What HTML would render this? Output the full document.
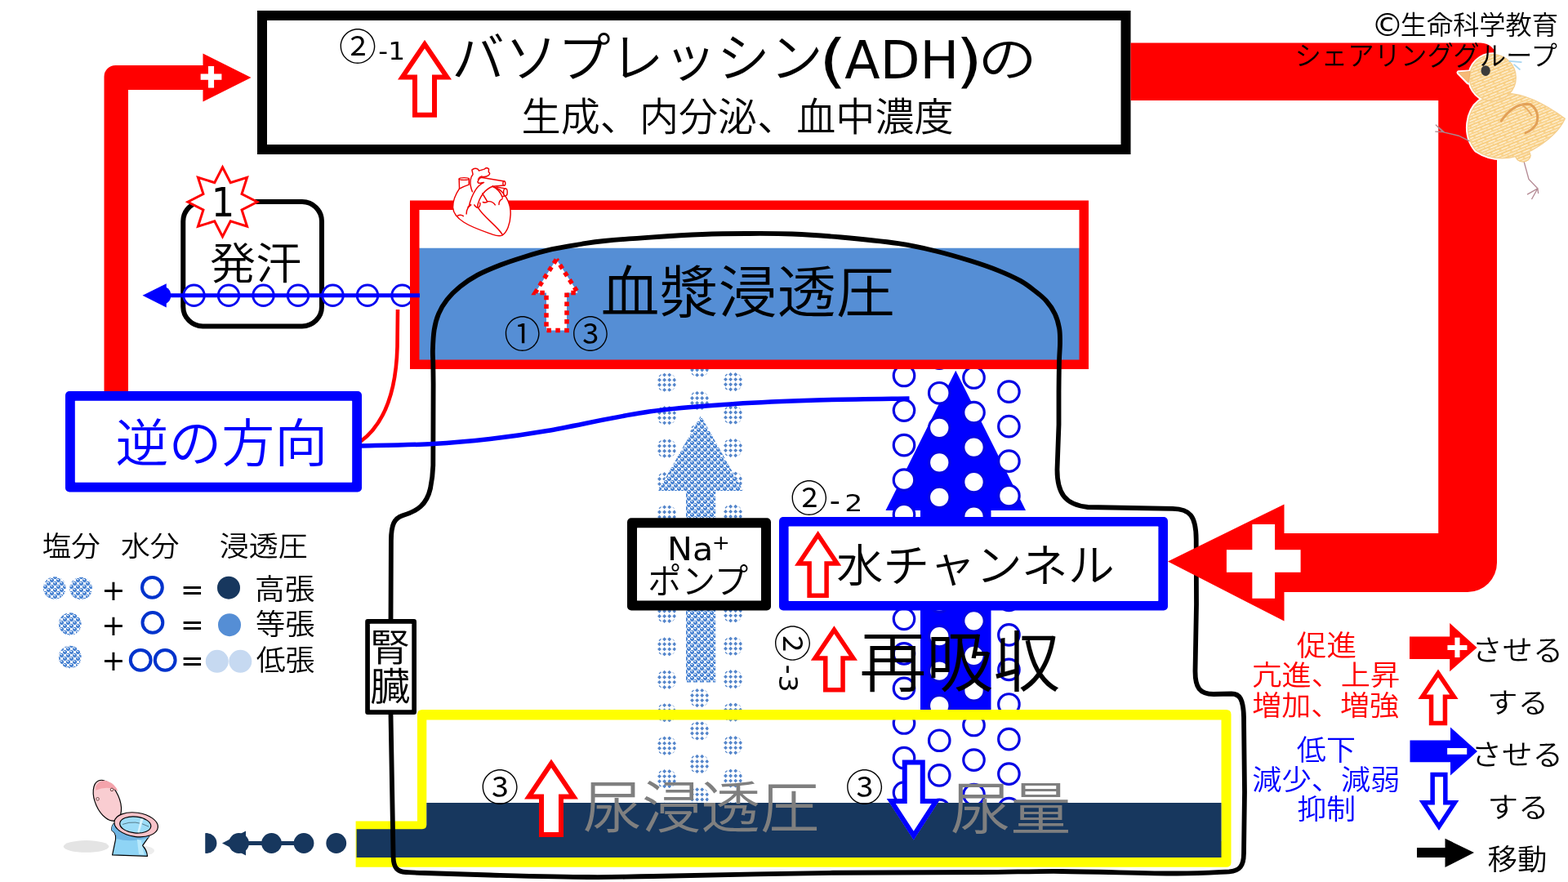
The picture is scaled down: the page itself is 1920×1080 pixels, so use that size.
<!DOCTYPE html>
<html lang="ja"><head><meta charset="utf-8"><title>バソプレッシン(ADH)</title><style>html,body{margin:0;padding:0;background:#fff;overflow:hidden}svg{display:block;will-change:transform}text{white-space:pre}</style></head><body>
<svg width="1920" height="1080" viewBox="0 0 1920 1080" font-family='"Liberation Sans", "Noto Sans CJK JP", sans-serif'><defs><pattern id="pDense" width="8" height="8" patternUnits="userSpaceOnUse" patternTransform="translate(1,0)"><rect width="8" height="8" fill="#fff"/><g fill="#4f87d3" shape-rendering="crispEdges"><rect x="1" y="0" width="3" height="1"/><rect x="5" y="0" width="3" height="1"/><rect x="0" y="1" width="1" height="1"/><rect x="3" y="1" width="2" height="1"/><rect x="0" y="2" width="5" height="1"/><rect x="0" y="3" width="5" height="1"/><rect x="1" y="4" width="3" height="1"/><rect x="5" y="4" width="3" height="1"/><rect x="0" y="5" width="1" height="1"/><rect x="4" y="5" width="1" height="1"/><rect x="7" y="5" width="1" height="1"/><rect x="0" y="6" width="1" height="1"/><rect x="4" y="6" width="4" height="1"/><rect x="0" y="7" width="1" height="1"/><rect x="4" y="7" width="4" height="1"/></g></pattern><clipPath id="sdc"><circle r="12.1"/></clipPath><g id="sd" clip-path="url(#sdc)" fill="#5586cb"><path d="M-8.5,-11.55l2.45,2.45l-2.45,2.45l-2.45,-2.45z"/><path d="M-8.5,-5.45l2.45,2.45l-2.45,2.45l-2.45,-2.45z"/><path d="M-8.5,0.65l2.45,2.45l-2.45,2.45l-2.45,-2.45z"/><path d="M-8.5,6.75l2.45,2.45l-2.45,2.45l-2.45,-2.45z"/><path d="M-2.4,-11.55l2.45,2.45l-2.45,2.45l-2.45,-2.45z"/><path d="M-2.4,-5.45l2.45,2.45l-2.45,2.45l-2.45,-2.45z"/><path d="M-2.4,0.65l2.45,2.45l-2.45,2.45l-2.45,-2.45z"/><path d="M-2.4,6.75l2.45,2.45l-2.45,2.45l-2.45,-2.45z"/><path d="M3.7,-11.55l2.45,2.45l-2.45,2.45l-2.45,-2.45z"/><path d="M3.7,-5.45l2.45,2.45l-2.45,2.45l-2.45,-2.45z"/><path d="M3.7,0.65l2.45,2.45l-2.45,2.45l-2.45,-2.45z"/><path d="M3.7,6.75l2.45,2.45l-2.45,2.45l-2.45,-2.45z"/><path d="M9.8,-11.55l2.45,2.45l-2.45,2.45l-2.45,-2.45z"/><path d="M9.8,-5.45l2.45,2.45l-2.45,2.45l-2.45,-2.45z"/><path d="M9.8,0.65l2.45,2.45l-2.45,2.45l-2.45,-2.45z"/><path d="M9.8,6.75l2.45,2.45l-2.45,2.45l-2.45,-2.45z"/></g><clipPath id="k1"><polygon points="520,48.75 553,97.5 535,97.5 535,143.75 505,143.75 505,97.5 487,97.5"/></clipPath><clipPath id="k2"><polygon points="1001.6,650 1030.2,692.75 1014.85,692.75 1014.85,732 988.35,732 988.35,692.75 973,692.75"/></clipPath><clipPath id="k3"><polygon points="1021.4,766.25 1050,808.75 1034.8,808.75 1034.8,847.5 1008,847.5 1008,808.75 992.8,808.75"/></clipPath><clipPath id="k4"><polygon points="675,929.5 708,978.5 690,978.5 690,1025 660,1025 660,978.5 642,978.5"/></clipPath><clipPath id="k5"><polygon points="1118.75,1028.75 1151.75,978 1132.75,978 1132.75,930.5 1104.75,930.5 1104.75,978 1085.75,978"/></clipPath><clipPath id="k6"><polygon points="1761,819.6 1785.6,856 1772.2,856 1772.2,888.3 1749.8,888.3 1749.8,856 1736.4,856"/></clipPath><clipPath id="k7"><polygon points="1762,1017 1786.4,980 1772.6,980 1772.6,945.75 1751.4,945.75 1751.4,980 1737.6,980"/></clipPath><clipPath id="dotclip"><rect x="251.25" y="1010" width="200" height="50"/></clipPath><pattern id="cray" width="60" height="34" patternUnits="userSpaceOnUse" patternTransform="rotate(-22)"><rect width="60" height="34" fill="#fad795"/><rect y="0" width="60" height="7" fill="#f7c874"/><rect y="17" width="60" height="6" fill="#f8cd80"/><rect x="8" y="8.5" width="46" height="7" fill="#fff4df"/><rect x="0" y="25" width="30" height="7" fill="#fdebc8"/><rect x="38" y="26" width="22" height="5" fill="#fffaf0"/></pattern></defs>
<rect width="1920" height="1080" fill="#fff"/>
<path d="M127.5,486 V94 A14,14 0 0 1 141.5,80 H248.5 V65.5 L307.5,95 L248.5,124.5 V110 H157 V486Z" fill="#FF0000"/>
<text x="243.37" y="106" font-size="36.47" font-weight="bold" font-family='"DejaVu Sans", sans-serif' fill="#fff" stroke="#fff" stroke-width="2.81" stroke-linejoin="miter">+</text>
<rect x="321" y="19" width="1057.5" height="164" fill="#fff" stroke="#000" stroke-width="12"/>
<text><tspan x="415.14" y="73.62" font-size="45.7" font-weight="350" textLength="45.97" lengthAdjust="spacingAndGlyphs">②</tspan><tspan x="463.36" y="72.5" font-size="30.82" font-family='"DejaVu Sans", "Noto Sans CJK JP", sans-serif' textLength="32.65" lengthAdjust="spacingAndGlyphs">-1</tspan></text>
<polygon points="520,48.75 553,97.5 535,97.5 535,143.75 505,143.75 505,97.5 487,97.5" fill="#fff" stroke="#FF0000" stroke-width="12" clip-path="url(#k1)"/>
<text><tspan x="552.95" y="94.18" font-size="65.28" font-weight="350" textLength="454.75" lengthAdjust="spacingAndGlyphs">バソプレッシン</tspan><tspan x="1002.44" y="99.44" font-size="71.63" font-family='"DejaVu Sans", "Noto Sans CJK JP", sans-serif' textLength="34.68" lengthAdjust="spacingAndGlyphs">(</tspan><tspan x="1034.37" y="95.75" font-size="63.36" font-family='"DejaVu Sans", "Noto Sans CJK JP", sans-serif' textLength="139.72" lengthAdjust="spacingAndGlyphs">ADH</tspan><tspan x="1170.24" y="99.44" font-size="71.63" font-family='"DejaVu Sans", "Noto Sans CJK JP", sans-serif' textLength="32.95" lengthAdjust="spacingAndGlyphs">)</tspan><tspan x="1197.21" y="94.19" font-size="60.4" font-weight="350" textLength="72.71" lengthAdjust="spacingAndGlyphs">の</tspan></text>
<text x="638.6" y="160.46" font-size="47.57" fill="#000" textLength="529.06" lengthAdjust="spacingAndGlyphs" font-weight="350">生成、内分泌、血中濃度</text>
<g><use href="#sd" x="816" y="468.2"/><use href="#sd" x="816" y="508.65"/><use href="#sd" x="816" y="549.1"/><use href="#sd" x="816" y="589.55"/><use href="#sd" x="816" y="630"/><use href="#sd" x="816" y="670.45"/><use href="#sd" x="816" y="710.9"/><use href="#sd" x="816" y="751.35"/><use href="#sd" x="816" y="791.8"/><use href="#sd" x="816" y="832.25"/><use href="#sd" x="816" y="872.7"/><use href="#sd" x="816" y="913.15"/><use href="#sd" x="816" y="953.6"/><use href="#sd" x="816" y="994.05"/><use href="#sd" x="897" y="467.6"/><use href="#sd" x="897" y="508.05"/><use href="#sd" x="897" y="548.5"/><use href="#sd" x="897" y="588.95"/><use href="#sd" x="897" y="629.4"/><use href="#sd" x="897" y="669.85"/><use href="#sd" x="897" y="710.3"/><use href="#sd" x="897" y="750.75"/><use href="#sd" x="897" y="791.2"/><use href="#sd" x="897" y="831.65"/><use href="#sd" x="897" y="872.1"/><use href="#sd" x="897" y="912.55"/><use href="#sd" x="897" y="953"/><use href="#sd" x="897" y="993.45"/><use href="#sd" x="856" y="450"/><use href="#sd" x="856" y="490.45"/><use href="#sd" x="856" y="530.9"/><use href="#sd" x="856" y="571.35"/><use href="#sd" x="856" y="611.8"/><use href="#sd" x="856" y="652.25"/><use href="#sd" x="856" y="692.7"/><use href="#sd" x="856" y="733.15"/><use href="#sd" x="856" y="773.6"/><use href="#sd" x="856" y="814.05"/><use href="#sd" x="856" y="854.5"/><use href="#sd" x="856" y="894.95"/><use href="#sd" x="856" y="935.4"/><use href="#sd" x="856" y="975.85"/></g>
<polygon points="858.1,509 910.1,601 876.2,601 876.2,835.5 840,835.5 840,601 806.1,601" fill="url(#pDense)"/>
<polygon points="1170.25,453.75 1256,625 1213.5,625 1213.5,870 1127,870 1127,625 1084.5,625" fill="#0000FF"/>
<g fill="#fff" stroke="#0606e4" stroke-width="3.2"><circle cx="1107" cy="460" r="12.75"/><circle cx="1107" cy="502.55" r="12.75"/><circle cx="1107" cy="545.1" r="12.75"/><circle cx="1107" cy="587.65" r="12.75"/><circle cx="1107" cy="630.2" r="12.75"/><circle cx="1107" cy="672.75" r="12.75"/><circle cx="1107" cy="715.3" r="12.75"/><circle cx="1107" cy="757.85" r="12.75"/><circle cx="1107" cy="800.4" r="12.75"/><circle cx="1107" cy="842.95" r="12.75"/><circle cx="1107" cy="885.5" r="12.75"/><circle cx="1107" cy="928.05" r="12.75"/><circle cx="1107" cy="970.6" r="12.75"/><circle cx="1107" cy="1013.15" r="12.75"/><circle cx="1150.25" cy="438.7" r="12.75"/><circle cx="1150.25" cy="481.25" r="12.75"/><circle cx="1150.25" cy="523.8" r="12.75"/><circle cx="1150.25" cy="566.35" r="12.75"/><circle cx="1150.25" cy="608.9" r="12.75"/><circle cx="1150.25" cy="651.45" r="12.75"/><circle cx="1150.25" cy="694" r="12.75"/><circle cx="1150.25" cy="736.55" r="12.75"/><circle cx="1150.25" cy="779.1" r="12.75"/><circle cx="1150.25" cy="821.65" r="12.75"/><circle cx="1150.25" cy="864.2" r="12.75"/><circle cx="1150.25" cy="906.75" r="12.75"/><circle cx="1150.25" cy="949.3" r="12.75"/><circle cx="1150.25" cy="991.85" r="12.75"/><circle cx="1150.25" cy="1034.4" r="12.75"/><circle cx="1192.5" cy="462.5" r="12.75"/><circle cx="1192.5" cy="505.05" r="12.75"/><circle cx="1192.5" cy="547.6" r="12.75"/><circle cx="1192.5" cy="590.15" r="12.75"/><circle cx="1192.5" cy="632.7" r="12.75"/><circle cx="1192.5" cy="675.25" r="12.75"/><circle cx="1192.5" cy="717.8" r="12.75"/><circle cx="1192.5" cy="760.35" r="12.75"/><circle cx="1192.5" cy="802.9" r="12.75"/><circle cx="1192.5" cy="845.45" r="12.75"/><circle cx="1192.5" cy="888" r="12.75"/><circle cx="1192.5" cy="930.55" r="12.75"/><circle cx="1192.5" cy="973.1" r="12.75"/><circle cx="1192.5" cy="1015.65" r="12.75"/><circle cx="1235.4" cy="437" r="12.75"/><circle cx="1235.4" cy="479.55" r="12.75"/><circle cx="1235.4" cy="522.1" r="12.75"/><circle cx="1235.4" cy="564.65" r="12.75"/><circle cx="1235.4" cy="607.2" r="12.75"/><circle cx="1235.4" cy="649.75" r="12.75"/><circle cx="1235.4" cy="692.3" r="12.75"/><circle cx="1235.4" cy="734.85" r="12.75"/><circle cx="1235.4" cy="777.4" r="12.75"/><circle cx="1235.4" cy="819.95" r="12.75"/><circle cx="1235.4" cy="862.5" r="12.75"/><circle cx="1235.4" cy="905.05" r="12.75"/><circle cx="1235.4" cy="947.6" r="12.75"/><circle cx="1235.4" cy="990.15" r="12.75"/><circle cx="1235.4" cy="1032.7" r="12.75"/></g>
<rect x="224.25" y="247" width="169.75" height="152.5" rx="24" fill="#fff" stroke="#000" stroke-width="6"/>
<g fill="#fff" stroke="#0808f0" stroke-width="2.9"><circle cx="237.5" cy="361.75" r="12.75"/><circle cx="280" cy="361.75" r="12.75"/><circle cx="322.5" cy="361.75" r="12.75"/><circle cx="365" cy="361.75" r="12.75"/><circle cx="407.5" cy="361.75" r="12.75"/><circle cx="450" cy="361.75" r="12.75"/><circle cx="492.5" cy="361.75" r="12.75"/></g>
<polygon points="272.5,204.75 282.26,223.69 302.55,217.2 296.06,237.49 315,247.25 296.06,257.01 302.55,277.3 282.26,270.81 272.5,289.75 262.74,270.81 242.45,277.3 248.94,257.01 230,247.25 248.94,237.49 242.45,217.2 262.74,223.69" fill="#fff" stroke="#FF0000" stroke-width="3"/>
<text x="258.82" y="264.5" font-size="48.97" fill="#000" textLength="28.52" lengthAdjust="spacingAndGlyphs" font-family='"DejaVu Sans", "Noto Sans CJK JP", sans-serif'>1</text>
<text x="257.07" y="342.43" font-size="53.8" fill="#000" textLength="112.18" lengthAdjust="spacingAndGlyphs" font-weight="350">発汗</text>
<rect x="507.75" y="251.25" width="819.5" height="195" fill="#fff"/>
<rect x="510" y="303.75" width="815" height="140" fill="#558ED5"/>
<rect x="507.75" y="251.25" width="819.5" height="195" fill="none" stroke="#FF0000" stroke-width="11.5"/>
<path d="M200,361.75H514" stroke="#0000FF" stroke-width="5" fill="none"/>
<path d="M203,351.5 A11.5,11.5 0 0 1 203,372Z" fill="#0000FF"/>
<polygon points="174.5,361.75 203.75,347.25 203.75,376.5" fill="#0000FF"/>
<polygon points="681.3,317.5 707.6,358.5 694,358.5 694,404.6 669,404.6 669,358.5 655.3,358.5" fill="#fff" stroke="#FF0000" stroke-width="5.5" stroke-dasharray="5.5 5.35" stroke-dashoffset="2.75"/>
<text x="617.18" y="425.62" font-size="45.7" fill="#000" textLength="44.9" lengthAdjust="spacingAndGlyphs" font-weight="350">①</text>
<text x="700.43" y="425.62" font-size="45.7" fill="#000" textLength="44.9" lengthAdjust="spacingAndGlyphs" font-weight="350">③</text>
<text x="735.51" y="383.16" font-size="69.84" fill="#000" textLength="360.24" lengthAdjust="spacingAndGlyphs" font-weight="350">血漿浸透圧</text>
<path fill-rule="evenodd" d="M435.6,1005.6 H511 V875 Q511,869 517,869 H1501.5 Q1507.5,869 1507.5,875 V1056 Q1507.5,1061.8 1501.5,1061.8 H435.6Z M522.3,881.4 V1030 H1495.5 V881.4Z" fill="#FFFF00"/>
<path d="M436.6,1015.2 H517 Q522.3,1015.2 522.3,1010 V983 H1495.5 V1050 H436.6Z" fill="#17375E"/>
<rect x="768" y="634.25" width="176" height="113.25" rx="5" fill="#000"/>
<rect x="780" y="646.25" width="152" height="89.25" rx="0.6" fill="#fff"/>
<text><tspan x="817.13" y="685.92" font-size="38.52" font-family='"DejaVu Sans", "Noto Sans CJK JP", sans-serif' textLength="56.12" lengthAdjust="spacingAndGlyphs">Na</tspan><tspan x="871.73" y="672.8" font-size="24.8" font-family='"DejaVu Sans", "Noto Sans CJK JP", sans-serif' textLength="22.12" lengthAdjust="spacingAndGlyphs">+</tspan></text>
<text x="793.31" y="727.02" font-size="43.22" fill="#000" textLength="122.81" lengthAdjust="spacingAndGlyphs" font-weight="350">ポンプ</text>
<rect x="954" y="633" width="476" height="114.5" rx="5" fill="#0000FF"/>
<rect x="965.6" y="644.6" width="452.8" height="91.3" rx="0.6" fill="#fff"/>
<polygon points="1001.6,650 1030.2,692.75 1014.85,692.75 1014.85,732 988.35,732 988.35,692.75 973,692.75" fill="#fff" stroke="#FF0000" stroke-width="11" clip-path="url(#k2)"/>
<text x="1024.25" y="712.06" font-size="54.86" fill="#000" textLength="340.6" lengthAdjust="spacingAndGlyphs" font-weight="350">水チャンネル</text>
<text><tspan x="967.9" y="626.62" font-size="45.7" font-weight="350" textLength="45.7" lengthAdjust="spacingAndGlyphs">②</tspan><tspan x="1015.67" y="624.62" font-size="35" font-family='"DejaVu Sans", "Noto Sans CJK JP", sans-serif' textLength="13.19" lengthAdjust="spacingAndGlyphs">-</tspan><tspan x="1034.39" y="625.5" font-size="27.7" font-family='"DejaVu Sans", "Noto Sans CJK JP", sans-serif' textLength="22.13" lengthAdjust="spacingAndGlyphs">2</tspan></text>
<g transform="translate(970,787.5) rotate(90)">
<text><tspan x="-22.85" y="17.37" font-size="45.7" font-weight="350" textLength="45.7" lengthAdjust="spacingAndGlyphs">②</tspan><tspan x="26.37" y="14.62" font-size="35" font-family='"DejaVu Sans", "Noto Sans CJK JP", sans-serif' textLength="11.8" lengthAdjust="spacingAndGlyphs">-</tspan><tspan x="39" y="15.53" font-size="31.13" font-family='"DejaVu Sans", "Noto Sans CJK JP", sans-serif' textLength="21.21" lengthAdjust="spacingAndGlyphs">3</tspan></text>
</g>
<polygon points="1021.4,766.25 1050,808.75 1034.8,808.75 1034.8,847.5 1008,847.5 1008,808.75 992.8,808.75" fill="#fff" stroke="#FF0000" stroke-width="11" clip-path="url(#k3)"/>
<text x="1052.22" y="839.57" font-size="80.33" fill="#000" textLength="246.25" lengthAdjust="spacingAndGlyphs" font-weight="350">再吸収</text>
<text x="589.13" y="980.62" font-size="45.7" fill="#000" textLength="46.24" lengthAdjust="spacingAndGlyphs" font-weight="350">③</text>
<polygon points="675,929.5 708,978.5 690,978.5 690,1025 660,1025 660,978.5 642,978.5" fill="#fff" stroke="#FF0000" stroke-width="12" clip-path="url(#k4)"/>
<text x="713.72" y="1014.46" font-size="69.23" fill="#7F7F7F" textLength="289.55" lengthAdjust="spacingAndGlyphs" font-weight="350">尿浸透圧</text>
<text x="1035.38" y="980.62" font-size="45.7" fill="#000" textLength="46.24" lengthAdjust="spacingAndGlyphs" font-weight="350">③</text>
<polygon points="1118.75,1028.75 1151.75,978 1132.75,978 1132.75,930.5 1104.75,930.5 1104.75,978 1085.75,978" fill="#fff" stroke="#0000FF" stroke-width="12" clip-path="url(#k5)"/>
<text x="1163.67" y="1015.69" font-size="70.74" fill="#7F7F7F" textLength="147.66" lengthAdjust="spacingAndGlyphs" font-weight="350">尿量</text>
<path d="M527,598 C529,588 530,580 530.3,570 L530.6,470 C530.55,465.83 530.42,451.93 530.3,445 C530.18,438.07 529.67,435.28 529.9,428.4 C530.13,421.52 530.52,411.03 531.7,403.7 C532.88,396.37 534.37,390.55 537,384.4 C539.63,378.25 543.12,372.37 547.5,366.8 C551.88,361.23 557.13,355.98 563.3,351 C569.47,346.02 576.28,341.32 584.5,336.9 C592.72,332.48 603.22,328.17 612.6,324.5 C621.98,320.83 630.23,318.12 640.8,314.9 C651.37,311.68 664.27,307.85 676,305.2 C687.73,302.55 700.53,300.7 711.2,299 C721.87,297.3 725.2,296.45 740,295 C754.8,293.55 780,291.63 800,290.3 C820,288.97 841.17,287.72 860,287 C878.83,286.28 894.67,286.08 913,286 C931.33,285.92 950.5,285.75 970,286.5 C989.5,287.25 1008.33,288.55 1030,290.5 C1051.67,292.45 1081,295.45 1100,298.2 C1119,300.95 1129.33,303.48 1144,307 C1158.67,310.52 1174.8,315.2 1188,319.3 C1201.2,323.4 1212.93,327.5 1223.2,331.6 C1233.47,335.7 1242.27,339.8 1249.6,343.9 C1256.93,348 1261.93,352.1 1267.2,356.2 C1272.47,360.3 1277.1,363.8 1281.2,368.5 C1285.3,373.2 1289.15,378.82 1291.8,384.4 C1294.45,389.98 1296.07,396.13 1297.1,402 C1298.13,407.87 1298,413.43 1298,419.6 C1298,425.77 1297.32,432.27 1297.1,439 C1296.88,445.73 1296.8,453.17 1296.7,460 C1296.6,466.83 1296.53,476.67 1296.5,480 L1296.5,520 L1294.5,575 C1294.5,604 1304,618 1332,621 L1436,622.8 C1457,623 1464.5,632 1464.7,660 L1465,740 L1463.5,822 C1463.5,842 1469,849.8 1486,850 L1508,849.5 C1518,849.5 1522.5,856 1523,878 L1524,970 L1523,1045 C1523,1060 1518,1066.5 1505,1067.3 C1494.17,1067.67 1474.17,1069.55 1440,1069.5 C1405.83,1069.45 1340,1067.25 1300,1067 C1260,1066.75 1246.67,1067.71 1200,1068 C1153.33,1068.29 1086.67,1067.92 1020,1068.75 C953.33,1069.58 850,1072.12 800,1073 C750,1073.88 753.33,1074.25 720,1074 C686.67,1073.75 633.33,1072.33 600,1071.5 C566.67,1070.67 537.17,1069.58 520,1069 C502.83,1068.42 500.83,1068.17 497,1068 C487,1067.5 482,1063 481.6,1050 L480,960 L478.5,875 L478.5,760 L478.9,662 C479,642 483,634.5 493,631.2 C511,626 522.5,618 527,598 Z" fill="none" stroke="#000" stroke-width="5.8" stroke-linejoin="round"/>
<path d="M1384.5,52.5 H1813 A20,20 0 0 1 1833,72.5 V689 A36,36 0 0 1 1797,725 H1572.5 V760.5 L1430,687.5 L1572.5,617.5 V653 H1761.25 V123 H1384.5Z" fill="#FF0000"/>
<text x="1495.43" y="726.2" font-size="123.53" font-weight="bold" font-family='"DejaVu Sans", sans-serif' fill="#fff" stroke="#fff" stroke-width="13.29" stroke-linejoin="miter">+</text>
<rect x="447.2" y="758" width="62.8" height="117" rx="3" fill="#000"/>
<rect x="452.9" y="763.7" width="51.4" height="105.6" rx="0.6" fill="#fff"/>
<text><tspan x="452.75" y="808.52" font-size="46.02" font-weight="350" textLength="49.42" lengthAdjust="spacingAndGlyphs">腎</tspan><tspan x="453.18" y="857.33" font-size="47.1" font-weight="350" textLength="49.15" lengthAdjust="spacingAndGlyphs">臓</tspan></text>
<path d="M487,379 L486.5,425 C485,480 470,520 441,541" fill="none" stroke="#FF0000" stroke-width="4.6"/>
<path d="M441,546 C455.83,545.58 503.5,544.92 530,543.5 C556.5,542.08 576.67,540.17 600,537.5 C623.33,534.83 637.5,533.08 670,527.5 C702.5,521.92 756.67,509.5 795,504 C833.33,498.5 865.83,496.83 900,494.5 C934.17,492.17 964.42,491.08 1000,490 C1035.58,488.92 1094.58,488.33 1113.5,488" fill="none" stroke="#0000FF" stroke-width="5.5"/>
<rect x="80" y="479" width="363" height="123.5" rx="5" fill="#0000FF"/>
<rect x="91.8" y="490.8" width="339.4" height="99.9" rx="0.6" fill="#fff"/>
<text x="141.48" y="565.48" font-size="62.7" fill="#0000FF" textLength="259.69" lengthAdjust="spacingAndGlyphs" font-weight="350">逆の方向</text>
<text x="51.76" y="680.69" font-size="34.27" fill="#000" textLength="71.03" lengthAdjust="spacingAndGlyphs" font-weight="350">塩分</text>
<text x="147.95" y="680.67" font-size="34.46" fill="#000" textLength="71.55" lengthAdjust="spacingAndGlyphs" font-weight="350">水分</text>
<text x="268.76" y="680.87" font-size="34.18" fill="#000" textLength="108.06" lengthAdjust="spacingAndGlyphs" font-weight="350">浸透圧</text>
<circle cx="66.8" cy="720" r="13.8" fill="url(#pDense)"/>
<circle cx="99.1" cy="720.5" r="13.8" fill="url(#pDense)"/>
<circle cx="85.8" cy="764" r="13.8" fill="url(#pDense)"/>
<circle cx="85.8" cy="804.5" r="13.8" fill="url(#pDense)"/>
<circle cx="186.4" cy="719.3" r="12.4" fill="#fff" stroke="#0033CC" stroke-width="4"/>
<circle cx="186.9" cy="762.4" r="12.4" fill="#fff" stroke="#0033CC" stroke-width="4"/>
<circle cx="172.2" cy="808.3" r="12.4" fill="#fff" stroke="#0033CC" stroke-width="4"/>
<circle cx="202.2" cy="808.3" r="12.4" fill="#fff" stroke="#0033CC" stroke-width="4"/>
<circle cx="280" cy="719.7" r="14" fill="#17375E"/>
<circle cx="281" cy="765.2" r="14" fill="#558ED5"/>
<circle cx="265.8" cy="809.8" r="14" fill="#C6D9F1"/><circle cx="294.3" cy="809.8" r="14" fill="#C6D9F1"/>
<text x="124.32" y="734.6" font-size="35.04" fill="#000" textLength="29.36" lengthAdjust="spacingAndGlyphs" font-family='"DejaVu Sans", "Noto Sans CJK JP", sans-serif'>+</text>
<text x="221.1" y="734.36" font-size="36" fill="#000" textLength="28.69" lengthAdjust="spacingAndGlyphs" font-family='"DejaVu Sans", "Noto Sans CJK JP", sans-serif'>=</text>
<text x="312.01" y="734.35" font-size="35.65" fill="#000" textLength="73.49" lengthAdjust="spacingAndGlyphs" font-weight="350">高張</text>
<text x="124.32" y="777.7" font-size="35.04" fill="#000" textLength="29.36" lengthAdjust="spacingAndGlyphs" font-family='"DejaVu Sans", "Noto Sans CJK JP", sans-serif'>+</text>
<text x="221.1" y="777.21" font-size="36" fill="#000" textLength="28.69" lengthAdjust="spacingAndGlyphs" font-family='"DejaVu Sans", "Noto Sans CJK JP", sans-serif'>=</text>
<text x="312.95" y="777.05" font-size="35.57" fill="#000" textLength="72.54" lengthAdjust="spacingAndGlyphs" font-weight="350">等張</text>
<text x="124.32" y="820.8" font-size="35.04" fill="#000" textLength="29.36" lengthAdjust="spacingAndGlyphs" font-family='"DejaVu Sans", "Noto Sans CJK JP", sans-serif'>+</text>
<text x="221.1" y="820.56" font-size="36" fill="#000" textLength="28.69" lengthAdjust="spacingAndGlyphs" font-family='"DejaVu Sans", "Noto Sans CJK JP", sans-serif'>=</text>
<text x="313.68" y="820.79" font-size="35.08" fill="#000" textLength="71.8" lengthAdjust="spacingAndGlyphs" font-weight="350">低張</text>
<text x="1587.87" y="803" font-size="35" fill="#FF0000" textLength="73.08" lengthAdjust="spacingAndGlyphs" font-weight="350">促進</text>
<text x="1533.37" y="839.14" font-size="34.46" fill="#FF0000" textLength="180.86" lengthAdjust="spacingAndGlyphs" font-weight="350">亢進、上昇</text>
<text x="1533.16" y="875.75" font-size="33.55" fill="#FF0000" textLength="179.94" lengthAdjust="spacingAndGlyphs" font-weight="350">増加、増強</text>
<text x="1587.88" y="931.38" font-size="35.19" fill="#0000FF" textLength="72.11" lengthAdjust="spacingAndGlyphs" font-weight="350">低下</text>
<text x="1533.15" y="967.18" font-size="34.02" fill="#0000FF" textLength="181.25" lengthAdjust="spacingAndGlyphs" font-weight="350">減少、減弱</text>
<text x="1588.42" y="1002.74" font-size="34.51" fill="#0000FF" textLength="71.77" lengthAdjust="spacingAndGlyphs" font-weight="350">抑制</text>
<path d="M1726,779.5H1775.2V763L1808.5,793L1775.2,822.2V807H1726Z" fill="#FF0000"/>
<text x="1769.75" y="803.97" font-size="35.1" font-weight="bold" font-family='"DejaVu Sans", sans-serif' fill="#fff" stroke="#fff" stroke-width="1.96" stroke-linejoin="miter">+</text>
<polygon points="1761,819.6 1785.6,856 1772.2,856 1772.2,888.3 1749.8,888.3 1749.8,856 1736.4,856" fill="#fff" stroke="#FF0000" stroke-width="11" clip-path="url(#k6)"/>
<path d="M1726.5,906.4H1776V890.5L1809,920L1776,949.5V933.3H1726.5Z" fill="#0000FF"/>
<text x="1771.06" y="930.14" font-size="31.96" font-weight="bold" font-family='"DejaVu Sans", sans-serif' fill="#fff" stroke="#fff" stroke-width="4.02" stroke-linejoin="miter">−</text>
<polygon points="1762,1017 1786.4,980 1772.6,980 1772.6,945.75 1751.4,945.75 1751.4,980 1737.6,980" fill="#fff" stroke="#0000FF" stroke-width="11" clip-path="url(#k7)"/>
<path d="M1735,1038H1769.5V1026.75L1805,1044L1769.5,1062V1050H1735Z" fill="#000"/>
<text x="1802.55" y="808.78" font-size="35.45" fill="#000" textLength="111.54" lengthAdjust="spacingAndGlyphs" font-weight="350">させる</text>
<text x="1821.36" y="873.01" font-size="33.81" fill="#000" textLength="74.55" lengthAdjust="spacingAndGlyphs" font-weight="350">する</text>
<text x="1801.49" y="936.87" font-size="35.69" fill="#000" textLength="112.71" lengthAdjust="spacingAndGlyphs" font-weight="350">させる</text>
<text x="1821.42" y="1000.79" font-size="34.23" fill="#000" textLength="75.29" lengthAdjust="spacingAndGlyphs" font-weight="350">する</text>
<text x="1821.41" y="1064.51" font-size="35.14" fill="#000" textLength="72.97" lengthAdjust="spacingAndGlyphs" font-weight="350">移動</text>
<g fill="#17375E" clip-path="url(#dotclip)"><circle cx="411.75" cy="1032.5" r="12.4"/><circle cx="372" cy="1032.5" r="12.4"/><circle cx="332.5" cy="1032.5" r="12.4"/><circle cx="292.5" cy="1032.5" r="12.4"/><circle cx="253" cy="1032.5" r="12.4"/><rect x="295" y="1030" width="77" height="5"/><polygon points="272,1032.5 301,1017.5 301,1047.5"/></g>
<g transform="translate(540,195) scale(0.09718)" fill="none" stroke="#EE0000" stroke-width="15" stroke-linecap="round" stroke-linejoin="round"><path d="M232,370 C185,440 150,520 150,600 C150,670 195,735 290,795 C400,865 560,915 650,948 C700,965 745,972 775,955 C830,920 872,820 876,700 C880,600 850,515 800,450 C770,405 720,362 650,342 L790,330 Q822,305 800,278 L505,228 Q540,225 575,210 Q628,180 600,160 L602,122 Q575,95 545,125 L478,145 L468,128 Q425,100 390,135 L402,190 Q380,215 372,260 L352,300 L352,245 Q290,222 228,248 Z" fill="#fff" stroke="none"/><path d="M232,370 C185,440 150,520 150,600 C150,670 195,735 290,795 C400,865 560,915 650,948 C700,965 745,972 775,955 C830,920 872,820 876,700 C880,600 850,515 800,450 C770,405 720,362 650,342"/><path d="M650,342 L790,330 M800,278 L505,228 Q475,245 462,285 Q470,312 515,296 L540,292 Q470,330 440,380 Q380,470 350,600"/><ellipse cx="796" cy="304" rx="15" ry="27" fill="#fff"/><path d="M395,410 Q362,330 372,260 Q380,215 402,190 L390,135 Q425,100 468,128 L478,145 L545,125 Q575,95 602,122 L600,160 Q628,180 600,202 Q560,232 510,215 Q480,225 468,255"/><ellipse cx="290" cy="247" rx="62" ry="14" fill="#fff"/><path d="M228,250 L232,372 Q300,335 352,320 L352,245"/><ellipse cx="812" cy="415" rx="24" ry="46" fill="#fff"/><path d="M700,350 L812,369 M770,470 L812,461 M650,342 Q740,380 775,485"/><path d="M650,342 C560,375 480,470 458,600"/><path d="M468,612 C540,735 700,830 776,952"/><path d="M372,572 Q322,615 320,690 M340,600 Q360,590 378,575"/><path d="M208,712 Q250,690 282,716"/><path d="M528,540 Q560,555 590,532 Q650,525 682,575"/><path d="M730,572 Q728,520 772,500"/><path d="M522,432 L582,530"/><path d="M420,575 Q440,610 468,612 Q500,590 492,550"/></g>
<g transform="translate(70,940) scale(0.11111)" stroke="#000" stroke-width="10.5" stroke-linejoin="round"><ellipse cx="320" cy="868" rx="250" ry="66" fill="#e4e4e4" stroke="none"/><ellipse cx="920" cy="915" rx="150" ry="55" fill="#ededed" stroke="none"/><path d="M618,622 Q596,655 602,690 Q655,720 642,800 L608,962 L995,975 Q985,900 940,860 L1015,755 L690,600Z" fill="#8fd4f5"/><path d="M618,622 Q596,655 602,690 Q655,720 650,780 Q800,830 1000,775 L1015,755 L690,600Z" fill="#6fb5e3" stroke="none"/><path d="M880,790 L925,800 L960,960 L900,955Z" fill="#b9e9fb" stroke="none"/><ellipse cx="552" cy="362" rx="132" ry="238" transform="rotate(-24 552 362)" fill="#f9cdd1"/><path d="M425,210 Q470,120 560,150 Q640,180 670,260 Q560,190 425,250Z" fill="#f4a3ab" stroke="none"/><ellipse cx="870" cy="628" rx="242" ry="132" transform="rotate(8 870 628)" fill="#f8c3c9"/><ellipse cx="862" cy="630" rx="172" ry="90" transform="rotate(6 862 630)" fill="#9cdcf8"/><path d="M720,625 Q860,570 1010,650" fill="none" stroke-width="4"/><path d="M920,560 L950,565 L905,715 L885,712Z" fill="#d8f3fd" stroke="none"/><circle cx="603" cy="242" r="16" fill="#fde9ea" stroke="#5a2a2a" stroke-width="8"/><circle cx="446" cy="345" r="16" fill="#fde9ea" stroke="#5a2a2a" stroke-width="8"/></g>
<g transform="translate(1720,50) scale(0.19436)"><g fill="#fff" stroke="#fff" stroke-width="26" stroke-linejoin="round"><circle cx="555" cy="232" r="146"/><path d="M400,520 Q420,340 640,330 Q800,335 1010,490 Q960,600 800,690 Q600,790 450,690 Q390,620 400,520Z"/><path d="M340,200 L410,195 L400,262Z"/></g><path d="M410,632 L340,598 L240,574 L195,528 M240,574 L192,572 M250,576 L215,545" fill="none" stroke="#a88890" stroke-width="7"/><path d="M752,762 L782,872 L838,930 L772,968 M838,930 L800,998 M838,930 L842,962" fill="none" stroke="#b48a94" stroke-width="7"/><ellipse cx="745" cy="722" rx="48" ry="40" fill="url(#cray)" stroke="#f3c87e" stroke-width="6"/><path d="M400,520 Q420,340 640,330 Q800,335 1010,490 Q960,600 800,690 Q600,790 450,690 Q390,620 400,520Z" fill="url(#cray)" stroke="#f5cf8f" stroke-width="7"/><circle cx="555" cy="232" r="146" fill="url(#cray)" stroke="#f5cf8f" stroke-width="7"/><path d="M338,200 L412,193 L402,264Z" fill="#f6b978" stroke="#f1a968" stroke-width="5"/><ellipse cx="510" cy="188" rx="29" ry="33" fill="#3b3b3b"/><path d="M608,505 Q690,385 792,400 Q852,440 832,520 Q805,565 762,580" fill="none" stroke="#e2a057" stroke-width="15" stroke-linecap="round"/><path d="M730,400 Q770,420 800,470" fill="none" stroke="#e8ac66" stroke-width="10" stroke-linecap="round"/><path d="M660,128 L735,134 M690,150 L725,180" fill="none" stroke="#a9d6f0" stroke-width="9" stroke-linecap="round"/></g>
<text><tspan x="1679.12" y="44" font-size="38.62" font-family='"DejaVu Sans", "Noto Sans CJK JP", sans-serif' textLength="39.86" lengthAdjust="spacingAndGlyphs">©</tspan><tspan x="1714.83" y="42.04" font-size="32" font-weight="350" textLength="193.1" lengthAdjust="spacingAndGlyphs">生命科学教育</tspan></text>
<text x="1585.43" y="80.33" font-size="33.33" fill="#000" textLength="321.55" lengthAdjust="spacingAndGlyphs" font-weight="350">シェアリンググループ</text>
</svg>
</body></html>
